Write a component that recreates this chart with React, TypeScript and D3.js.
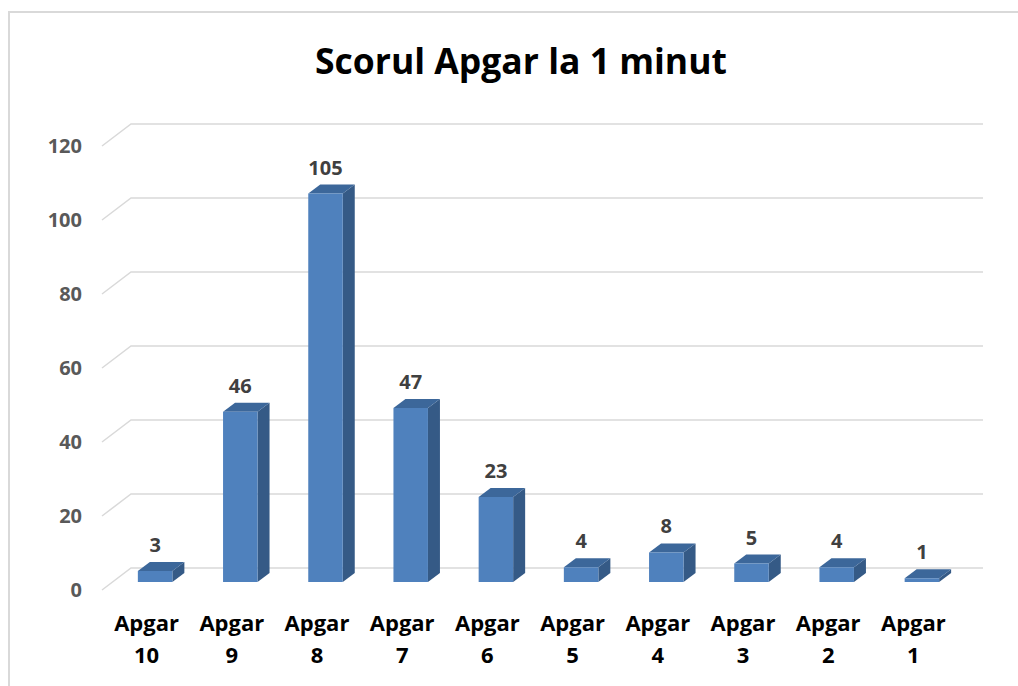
import React from "react";
import * as d3 from "d3";

const categories = ["10", "9", "8", "7", "6", "5", "4", "3", "2", "1"];
const values = [3, 46, 105, 47, 23, 4, 8, 5, 4, 1];
const yTicks = [0, 20, 40, 60, 80, 100, 120];
const title = "Scorul Apgar la 1 minut";

const W = 1018;
const H = 686;
const FONT = "'Open Sans', sans-serif";

export default function App() {
  const x0 = 102, x1 = 954;
  const yBottom = 590, yTop = 146;
  const depthX = 29, depthY = -22;
  const barOffX = 10.5, barOffY = -8;
  const barDX = 12, barDY = -9;

  const x = d3.scaleBand<string>().domain(categories).range([x0, x1]);
  const y = d3.scaleLinear().domain([0, 120]).range([yBottom, yTop]);
  const bw = 34.5;

  return (
    <svg width={W} height={H} style={{ position: "absolute", left: 0, top: 0 }}>
      <rect x={0} y={0} width={W} height={H} fill="#fff" />
      <rect x={9} y={12} width={W + 20} height={H + 20} fill="none" stroke="#d9d9d9" strokeWidth={2} />
      <text x={521} y={74} textAnchor="middle" fontFamily={FONT} fontWeight="bold" fontSize={35.5} fill="#000">
        {title}
      </text>
      {yTicks.map((t) => (
        <g key={t}>
          <polyline
            points={`${x0},${y(t)} ${x0 + depthX},${y(t) + depthY} ${x1 + depthX},${y(t) + depthY}`}
            fill="none"
            stroke="#d9d9d9"
            strokeWidth={1.5}
          />
          <text x={82} y={y(t)} dy="0.35em" textAnchor="end" fontFamily={FONT} fontWeight="bold" fontSize={20} fill="#595959">
            {t}
          </text>
        </g>
      ))}
      {categories.map((c, i) => {
        const cx = (x(c) as number) + x.bandwidth() / 2;
        const fx = cx - bw / 2 + barOffX;
        const fb = yBottom + barOffY;
        const ft = y(values[i]) + barOffY;
        const front = `${fx},${fb} ${fx + bw},${fb} ${fx + bw},${ft} ${fx},${ft}`;
        const side = `${fx + bw},${fb} ${fx + bw + barDX},${fb + barDY} ${fx + bw + barDX},${ft + barDY} ${fx + bw},${ft}`;
        const top = `${fx},${ft} ${fx + bw},${ft} ${fx + bw + barDX},${ft + barDY} ${fx + barDX},${ft + barDY}`;
        return (
          <g key={c}>
            <polygon points={side} fill="#355a86" />
            <polygon points={top} fill="#3c679a" />
            <polygon points={front} fill="#4f81bd" />
            <text x={fx + bw / 2} y={ft - 19} textAnchor="middle" fontFamily={FONT} fontWeight="bold" fontSize={20} fill="#404040">
              {values[i]}
            </text>
            <text textAnchor="middle" fontFamily={FONT} fontWeight="bold" fontSize={22} fill="#000">
              <tspan x={cx + 2} y={631}>Apgar</tspan>
              <tspan x={cx + 2} y={663}>{c}</tspan>
            </text>
          </g>
        );
      })}
    </svg>
  );
}
